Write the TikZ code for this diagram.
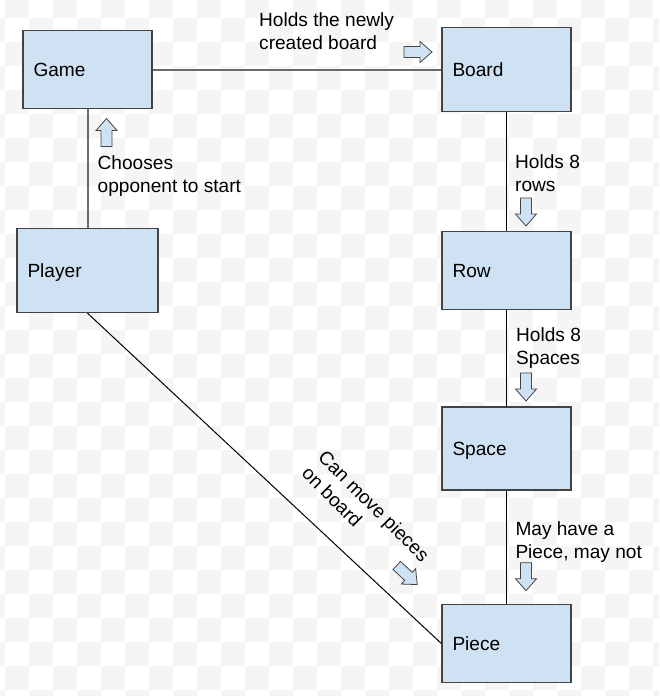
\documentclass[tikz,border=0pt]{standalone}
\usepackage{fontspec}
\setmainfont{Liberation Sans}
\usepackage{tikz}
\definecolor{boxfill}{HTML}{CFE2F3}
\definecolor{boxline}{HTML}{434343}
\definecolor{linkgray}{HTML}{6B6B6B}
\definecolor{checker}{HTML}{F5F5F5}
\newcommand{\diagfont}{\fontsize{19.1}{23}\selectfont}
\tikzset{%
  class box/.style={
    rectangle,
    draw=boxline,
    fill=boxfill,
    line width=1.3pt,
    inner xsep=10.5pt,
    inner ysep=0pt,
    text width=108pt,
    minimum height=78pt,
    align=left,
    text height=13.7pt,
    text depth=0pt
  },
  link/.style={draw=linkgray, line width=2pt},
  thin link/.style={draw=black, line width=1pt},
  note/.style={align=left, inner sep=0pt, anchor=north west},
  blockarrow/.pic={
    \draw[boxline, fill=boxfill, line width=0.8pt, line join=miter]
      (-14,-5.5) -- (2,-5.5) -- (2,-10.5) -- (14,0) -- (2,10.5) -- (2,5.5) -- (-14,5.5) -- cycle;
  },
}

\begin{document}
\begin{tikzpicture}[x=1pt, y=-1pt, font=\diagfont]
\useasboundingbox (0,0) rectangle (659,696);
% background squares
\begin{scope}
    \clip (0,0) rectangle (659,696);
    \fill[white] (0,0) rectangle (659,696);
    \foreach \i in {0,...,28}
        \foreach \j in {0,...,29}
            {\pgfmathtruncatemacro{\odd}{mod(\i+\j,2)}
            \ifnum\odd=1 \fill[checker] (-19+24*\i,-6.3+24*\j) rectangle +(24,24); \fi}
\end{scope}
% classes
\node[class box] (game) at (87.5,69.5) {Game};
\node[class box, text width=120pt, minimum height=84pt] (player) at (87.5,270.5) {Player};
\node[class box, minimum height=84pt] (board) at (506.5,69.5) {Board};
\node[class box] (row) at (506.5,270.5) {Row};
\node[class box, minimum height=83pt] (space) at (506.5,448.5) {Space};
\node[class box] (piece) at (506.5,643.5) {Piece};
% links
\draw[link] (game) -- (board);
\draw[link] (game) -- (player);
\draw[thin link] (board) -- (row);
\draw[thin link] (row) -- (space);
\draw[thin link] (space) -- (piece);
\draw[thin link] (player.south) -- (piece.west);
% notes
\node[note] (holdsboard) at (259,12) {Holds the newly\\created board};
\node[note] (chooses) at (97.5,155.5) {Chooses\\opponent to start};
\node[note] (holdsrows) at (515,154) {Holds 8\\rows};
\node[note] (holdsspaces) at (516,327) {Holds 8\\Spaces};
\node[note] (mayhave) at (515.3,521) {May have a\\Piece, may not};
\node[align=left, inner sep=0pt, rotate=-45] (canmove) at (366,514) {Can move pieces\\on board};
% direction arrows
\pic at (418,52) {blockarrow};
\pic[rotate=90] at (106.5,132.5) {blockarrow};
\pic[rotate=-90] at (526,212) {blockarrow};
\pic[rotate=-90] at (526,387) {blockarrow};
\pic[rotate=-90] at (526,576.7) {blockarrow};
\pic[rotate=-43] at (407,575) {blockarrow};
\end{tikzpicture}
\end{document}
